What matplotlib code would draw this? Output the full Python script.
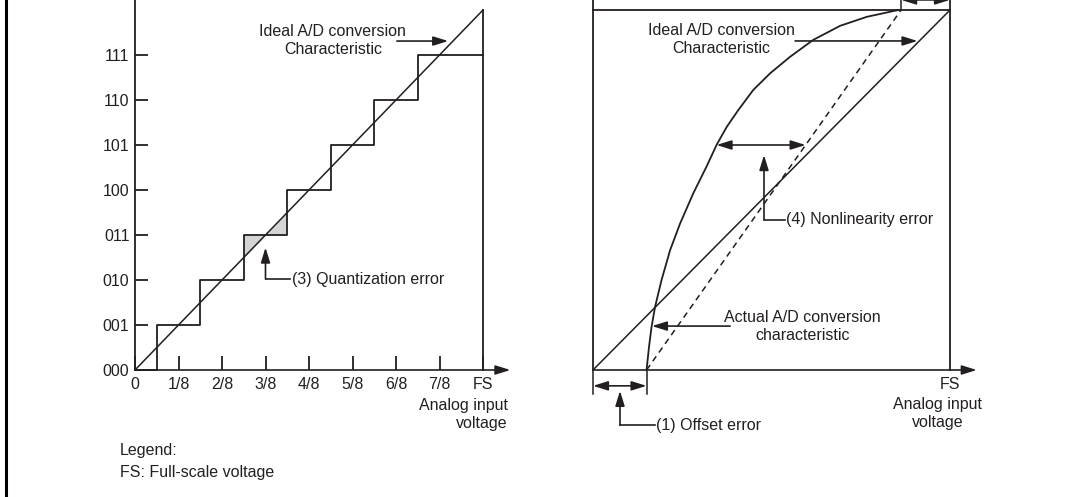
import matplotlib.pyplot as plt
from matplotlib.lines import Line2D

plt.rcParams['font.family'] = ['Liberation Sans', 'DejaVu Sans']
plt.rcParams['font.size'] = 11.5
INK = '#231f20'
plt.rcParams['text.color'] = INK

# left panel: 3-bit codes against input voltage (in eighths of full scale)
codes = ['000', '001', '010', '011', '100', '101', '110', '111']
code_levels = [0, 1, 2, 3, 4, 5, 6, 7]
x_labels = ['0', '1/8', '2/8', '3/8', '4/8', '5/8', '6/8', '7/8', 'FS']
step_x = [0, 0.5, 1.5, 2.5, 3.5, 4.5, 5.5, 6.5, 8]
step_y = [0, 1, 2, 3, 4, 5, 6, 7, 7]
ideal_x = [0, 8]
ideal_y = [0, 8]
shade_x = [2.5, 3.5]       # quantization error around code 011
shade_level = 3

# right panel: normalised input (0..1 of FS) vs output
offset = 0.15
fs_end = 0.863
actual_u = [0.150, 0.157, 0.164, 0.174, 0.192, 0.216, 0.244, 0.281,
            0.318, 0.346, 0.375, 0.407, 0.449, 0.496, 0.552, 0.617,
            0.692, 0.767, 0.841, 0.857]
actual_v = [0.000, 0.065, 0.120, 0.176, 0.250, 0.333, 0.407, 0.491,
            0.565, 0.625, 0.676, 0.722, 0.778, 0.824, 0.870, 0.917,
            0.956, 0.981, 0.997, 1.000]
nl_idx = 9                 # point where the nonlinearity is marked

fig = plt.figure(figsize=(10.66, 4.97), dpi=100)
W, H = 1066, 497


def box(l, t, r, b):
    return [l / W, 1 - b / H, (r - l) / W, (b - t) / H]


arrow = dict(arrowstyle='-|>,head_length=0.9,head_width=0.28', color=INK,
             lw=1.2, mutation_scale=10, shrinkA=0, shrinkB=0)
darrow = dict(arrowstyle='<|-|>,head_length=0.9,head_width=0.28', color=INK,
              lw=1.2, mutation_scale=10, shrinkA=0, shrinkB=0)
LS = 1.25

# ---------------- left panel ----------------
ax1 = fig.add_axes(box(135, 10, 483, 370))
ax1.set_xlim(0, 8)
ax1.set_ylim(0, 8)
for s in ax1.spines.values():
    s.set_visible(False)
ax1.patch.set_visible(False)

ax1.fill_between(shade_x, [shade_level] * 2, shade_x, color='#d4d4d4', lw=0)
ax1.step(step_x, step_y, where='post', color=INK, lw=1.3, clip_on=False)
ax1.plot(ideal_x, ideal_y, color=INK, lw=1.1, clip_on=False)
ax1.plot([8, 8], [0, 8], color=INK, lw=1.3, clip_on=False)
ax1.plot([0, 0], [0, 8.23], color=INK, lw=1.3, clip_on=False)
ax1.annotate('', xy=(8.63, 0), xytext=(0, 0), arrowprops=arrow,
             annotation_clip=False)

ax1.set_yticks(code_levels, codes)
ax1.set_xticks(range(9), x_labels)
ax1.tick_params(axis='y', direction='in', length=9.5, width=1.3, pad=4,
                colors=INK, labelsize=11.5)
ax1.tick_params(axis='x', direction='in', length=10, width=1.3, pad=5,
                colors=INK, labelsize=11.5)

ax1.text(4.55, 7.33, 'Ideal A/D conversion\nCharacteristic', ha='center',
         va='center', linespacing=LS)
ax1.annotate('', xy=(7.2, 7.31), xytext=(6.02, 7.31), arrowprops=arrow)

ax1.plot([3.0, 3.56], [2.02, 2.02], color=INK, lw=1.2)
ax1.annotate('', xy=(3.0, 2.72), xytext=(3.0, 2.02), arrowprops=arrow)
ax1.text(3.6, 2.02, '(3) Quantization error', va='center')

ax1.text(8.57, -0.98, 'Analog input\nvoltage', ha='right', va='center',
         multialignment='right', linespacing=LS)

fig.text(120 / W, 1 - 451 / H, 'Legend:', va='center')
fig.text(120 / W, 1 - 473 / H, 'FS: Full-scale voltage', va='center')

# ---------------- right panel ----------------
ax2 = fig.add_axes(box(593, 10, 950, 370))
ax2.set_xlim(0, 1)
ax2.set_ylim(0, 1)
ax2.axis('off')

top = 1.028
ax2.plot([0, 0], [0, top], color=INK, lw=1.3, clip_on=False)
ax2.plot([1, 1], [0, top], color=INK, lw=1.3, clip_on=False)
ax2.plot([0, 1], [1, 1], color=INK, lw=1.3, clip_on=False)
ax2.plot([fs_end, fs_end], [1, top], color=INK, lw=1.1, clip_on=False)
ax2.annotate('', xy=(1, top), xytext=(fs_end, top), arrowprops=darrow,
             annotation_clip=False)

ax2.plot([0, 1], [0, 1], color=INK, lw=1.1, clip_on=False)
ax2.plot([offset, fs_end], [0, 1], color=INK, lw=1.1, ls=(0, (4, 3)))
ax2.plot(actual_u, actual_v, color=INK, lw=1.3, clip_on=False,
         solid_joinstyle='round')
ax2.annotate('', xy=(1.075, 0), xytext=(0, 0), arrowprops=arrow,
             annotation_clip=False)

# ideal characteristic label
ax2.text(0.36, 0.917, 'Ideal A/D conversion\nCharacteristic', ha='center',
         va='center', linespacing=LS)
ax2.annotate('', xy=(0.909, 0.914), xytext=(0.566, 0.914), arrowprops=arrow)

# nonlinearity between actual curve and offset-corrected line
v_nl = actual_v[nl_idx]
ax2.annotate('', xy=(offset + (fs_end - offset) * v_nl, v_nl),
             xytext=(actual_u[nl_idx], v_nl), arrowprops=darrow)
ax2.plot([0.479, 0.538], [0.417, 0.417], color=INK, lw=1.2)
ax2.annotate('', xy=(0.479, 0.597), xytext=(0.479, 0.417), arrowprops=arrow)
ax2.text(0.541, 0.417, '(4) Nonlinearity error', va='center')

# actual characteristic label
ax2.text(0.587, 0.12, 'Actual A/D conversion\ncharacteristic', ha='center',
         va='center', linespacing=LS)
ax2.annotate('', xy=(0.165, 0.122), xytext=(0.384, 0.122), arrowprops=arrow)

# offset error
ax2.plot([0, 0], [0, -0.067], color=INK, lw=1.1, clip_on=False)
ax2.plot([offset, offset], [0, -0.067], color=INK, lw=1.1, clip_on=False)
ax2.annotate('', xy=(offset, -0.044), xytext=(0, -0.044), arrowprops=darrow,
             annotation_clip=False)
ax2.plot([0.0756, 0.174], [-0.153, -0.153], color=INK, lw=1.2,
         clip_on=False)
ax2.annotate('', xy=(0.0756, -0.058), xytext=(0.0756, -0.153),
             arrowprops=arrow, annotation_clip=False)
ax2.text(0.176, -0.153, '(1) Offset error', va='center')

ax2.text(1.0, -0.039, 'FS', ha='center', va='center')
ax2.text(0.966, -0.122, 'Analog input\nvoltage', ha='center', va='center',
         linespacing=LS)

# frame edge on the far left
fig.add_artist(Line2D([6 / W, 6 / W], [0, 1], color='black', lw=2.2))

fig.savefig('out.png', dpi=100)
